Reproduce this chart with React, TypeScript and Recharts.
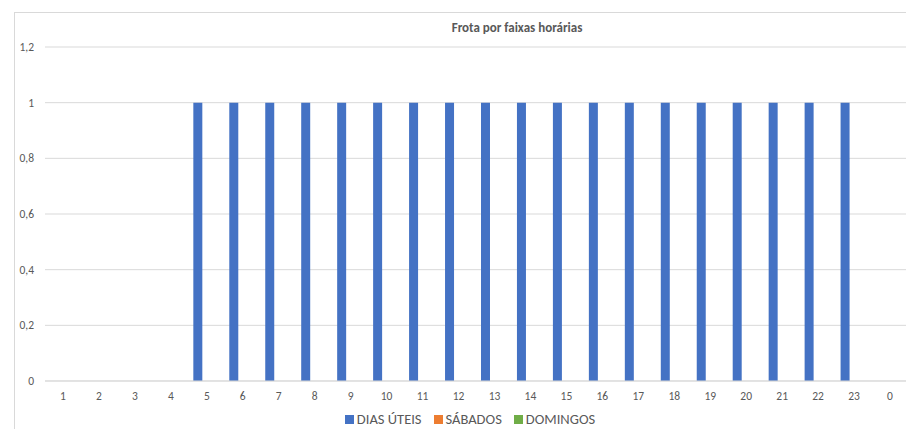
import React from 'react';
import { BarChart, Bar, XAxis, YAxis, CartesianGrid, Legend } from 'recharts';

const hours = ['1', '2', '3', '4', '5', '6', '7', '8', '9', '10', '11', '12', '13', '14', '15', '16', '17', '18', '19', '20', '21', '22', '23', '0'];
const diasUteis = [0, 0, 0, 0, 1, 1, 1, 1, 1, 1, 1, 1, 1, 1, 1, 1, 1, 1, 1, 1, 1, 1, 1, 0];
const sabados = [0, 0, 0, 0, 0, 0, 0, 0, 0, 0, 0, 0, 0, 0, 0, 0, 0, 0, 0, 0, 0, 0, 0, 0];
const domingos = [0, 0, 0, 0, 0, 0, 0, 0, 0, 0, 0, 0, 0, 0, 0, 0, 0, 0, 0, 0, 0, 0, 0, 0];
const yTicks = [0, 0.2, 0.4, 0.6, 0.8, 1, 1.2];

const seriesNames = ['DIAS ÚTEIS', 'SÁBADOS', 'DOMINGOS'];
const seriesColors = ['#4472C4', '#ED7D31', '#70AD47'];

const data = hours.map((h, i) => ({
  hour: h,
  uteis: diasUteis[i],
  sabados: sabados[i],
  domingos: domingos[i],
}));

const FONT = 'Calibri, Carlito, Lato, "Open Sans", sans-serif';
const GREY = '#595959';

// legend in the series order, like the spreadsheet does
const renderLegend = () => (
  <div style={{ display: 'flex', justifyContent: 'center', gap: 12, fontFamily: FONT, fontSize: 14.5, color: GREY }}>
    {seriesNames.map((name, i) => (
      <div key={name} style={{ display: 'flex', alignItems: 'center' }}>
        <span style={{ display: 'inline-block', width: 9, height: 9, background: seriesColors[i], marginRight: 3 }} />
        <span>{name}</span>
      </div>
    ))}
  </div>
);

const App: React.FC = () => {
  return (
    <div style={{ position: 'fixed', left: 0, top: 0, width: 906, height: 429, overflow: 'hidden', background: '#fff', fontFamily: FONT }}>
      {/* frame of the chart box, cut off on the right and bottom */}
      <div style={{ position: 'absolute', left: 14, top: 12, width: 900, height: 430, borderLeft: '1px solid #d9d9d9', borderTop: '1px solid #d9d9d9' }} />
      <div style={{ position: 'absolute', left: 0, top: 0 }}>
        <BarChart
          width={920}
          height={429}
          data={data}
          margin={{ top: 47, right: 12, bottom: 0, left: 0 }}
          barCategoryGap="12.5%"
          barGap={0}
        >
          <CartesianGrid vertical={false} stroke="#d9d9d9" />
          <XAxis
            dataKey="hour"
            height={30}
            tickLine={false}
            axisLine={{ stroke: '#d9d9d9' }}
            tickMargin={5}
            tick={{ fill: GREY, fontSize: 11.5, fontFamily: FONT }}
            interval={0}
          />
          <YAxis
            width={45}
            domain={[0, 1.2]}
            ticks={yTicks}
            axisLine={false}
            tickLine={false}
            tickMargin={5}
            tick={{ fill: GREY, fontSize: 11.5, fontFamily: FONT }}
            tickFormatter={(v: number) => String(v).replace('.', ',')}
          />
          <Legend
            verticalAlign="bottom"
            content={renderLegend}
            wrapperStyle={{ left: 16, width: 908, top: 410 }}
          />
          <Bar dataKey="uteis" name={seriesNames[0]} fill={seriesColors[0]} isAnimationActive={false} />
          <Bar dataKey="sabados" name={seriesNames[1]} fill={seriesColors[1]} isAnimationActive={false} />
          <Bar dataKey="domingos" name={seriesNames[2]} fill={seriesColors[2]} isAnimationActive={false} />
        </BarChart>
      </div>
      <div style={{ position: 'absolute', left: 0, width: 1034, top: 20, textAlign: 'center', fontSize: 13, fontWeight: 'bold', color: GREY, fontFamily: FONT }}>
        Frota por faixas horárias
      </div>
    </div>
  );
};

export default App;
